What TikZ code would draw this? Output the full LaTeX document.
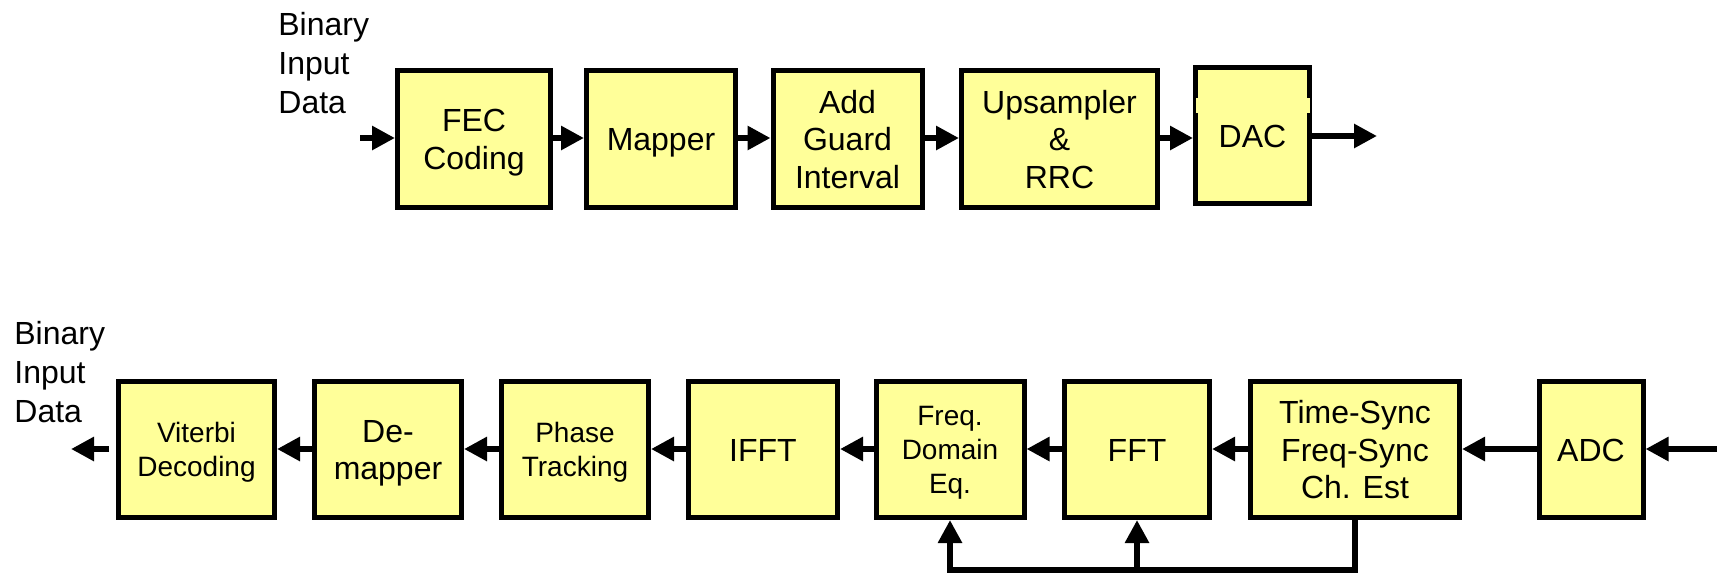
\documentclass[tikz,border=0pt]{standalone}
\usepackage{fontspec}
\setmainfont{Liberation Sans}
\usetikzlibrary{arrows.meta}
\definecolor{boxyellow}{HTML}{FFFF99}
\newcommand{\blkfont}{\fontsize{16pt}{18.75pt}\selectfont}
\newcommand{\smlfont}{\fontsize{14pt}{17pt}\selectfont}
\newcommand{\lblfont}{\fontsize{16pt}{19.5pt}\selectfont}
\def\firstht{15.5pt}
\def\lastdp{4pt}
\newcommand{\ftop}{\rule{0pt}{\firstht}}
\begin{document}
\begin{tikzpicture}[x=0.5pt,y=-0.5pt,
  blk/.style={draw=black, line width=2.5pt, fill=boxyellow, align=center, inner sep=0pt,
              font=\blkfont, minimum height=68.5pt,
              /utils/exec={\def\firstht{15.5pt}\def\lastdp{4pt}},
              execute at begin node={\ftop},
              execute at end node={\rule[-\lastdp]{0pt}{\lastdp}}},
  lowblk/.style={blk, minimum height=68pt},
  smalltxt/.style={font=\smlfont, /utils/exec={\def\firstht{13.5pt}\def\lastdp{3.5pt}}},
  lbl/.style={align=left, inner sep=0pt, anchor=north west, font=\lblfont},
  conn/.style={line width=3pt, line join=miter, -{Triangle[length=11.5pt,width=11.5pt]}}]
\path[use as bounding box, fill=white] (0,0) rectangle (1722,574);

% ---------- transmitter ----------
\node[lbl] (tlab) at (278,12) {Binary\\Input\\Data};
\node[blk, minimum width=76.5pt] (fec) at (474,139) {\ftop FEC\\Coding};
\node[blk, minimum width=74.5pt] (map) at (661,139) {Mapper};
\node[blk, minimum width=74.5pt] (agi) at (847.5,139) {\ftop Add\\Guard\\Interval};
\node[blk, minimum width=98pt] (ups) at (1059.5,139) {\ftop Upsampler\\\&\\RRC};
\node[blk, minimum width=57pt, minimum height=68pt] (dac) at (1252.5,135.5) {DAC};
\fill[boxyellow] (1195.5,98) rectangle (1200.5,113);
\fill[boxyellow] (1304.5,98) rectangle (1309.5,113);

\coordinate (tin) at (360,138);
\coordinate (tout) at (1377,136);
\draw[conn] (tin) -- (fec.west |- tin);
\draw[conn] (fec.east |- tin) -- (map.west |- tin);
\draw[conn] (map.east |- tin) -- (agi.west |- tin);
\draw[conn] (agi.east |- tin) -- (ups.west |- tin);
\draw[conn] (ups.east |- tin) -- (dac.west |- tin);
\draw[conn] (dac.east |- tout) -- (tout);

% ---------- receiver ----------
\node[lbl] (rlab) at (14,321) {Binary\\Input\\Data};
\node[lowblk, smalltxt, minimum width=78pt] (vit) at (196.5,449.5) {\ftop Viterbi\\Decoding};
\node[lowblk, minimum width=73.5pt] (dem) at (388,449.5) {\ftop De-\\mapper};
\node[lowblk, smalltxt, minimum width=73.5pt] (pht) at (575,449.5) {\ftop Phase\\Tracking};
\node[lowblk, minimum width=74.5pt] (ifft) at (763,449.5) {IFFT};
\node[lowblk, smalltxt, minimum width=74pt] (fde) at (950,449.5) {\ftop Freq.\\Domain\\Eq.};
\node[lowblk, minimum width=72.5pt] (fft) at (1137,449.5) {FFT};
\node[lowblk, minimum width=104.5pt] (ts) at (1355,449.5) {\ftop Time-Sync\\Freq-Sync\\Ch. Est};
\node[lowblk, minimum width=52pt] (adc) at (1591,449.5) {ADC};

\coordinate (rin) at (1717,449);
\coordinate (rout) at (71,449);
\coordinate (fb) at (1355,570);
\draw[conn] (rin) -- (adc.east |- rin);
\draw[conn] (adc.west |- rin) -- (ts.east |- rin);
\draw[conn] (ts.west |- rin) -- (fft.east |- rin);
\draw[conn] (fft.west |- rin) -- (fde.east |- rin);
\draw[conn] (fde.west |- rin) -- (ifft.east |- rin);
\draw[conn] (ifft.west |- rin) -- (pht.east |- rin);
\draw[conn] (pht.west |- rin) -- (dem.east |- rin);
\draw[conn] (dem.west |- rin) -- (vit.east |- rin);
\draw[conn, shorten <=3.5pt] (vit.west |- rin) -- (rout);
\draw[conn] (ts.south) |- (fde.south |- fb) -- (fde.south);
\draw[conn] (fft.south |- fb) -- (fft.south);
\end{tikzpicture}
\end{document}
